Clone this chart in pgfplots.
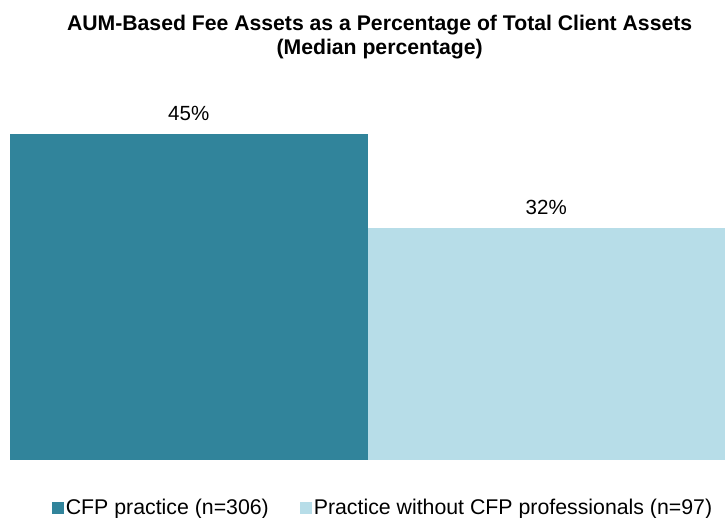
\documentclass[border=0pt]{standalone}
\usepackage{pgfplots}
\pgfplotsset{compat=1.18}
\usepackage{fontspec}
\setmainfont{Liberation Sans}
\usetikzlibrary{calc}
\definecolor{cfpdark}{HTML}{31849B}
\definecolor{cfplight}{HTML}{B7DDE8}
\begin{document}
\begin{tikzpicture}
\begin{axis}[
  scale only axis, clip=false,
  width=715bp, height=362.2bp,
  xmin=-0.5, xmax=1.5, ymin=0, ymax=50,
  axis lines=none, xtick=\empty, ytick=\empty,
  ybar, bar width=357.5bp, bar shift=0pt,
  /pgf/number format/assume math mode=true,
  nodes near coords={\pgfmathprintnumber{\pgfplotspointmeta}\%},
  every node near coord/.append style={font=\fontsize{20.5bp}{24bp}\selectfont, anchor=base, yshift=14bp, black},
  legend style={at={(axis description cs:0.5217,-0.1325)}, anchor=center, draw=none, legend columns=2,
    font=\fontsize{21.3bp}{24bp}\selectfont,
    /tikz/every even column/.append style={column sep=29bp}},
  legend image code/.code={\fill[#1] (0bp,-6bp) rectangle (12bp,6bp);},
]
\addplot[fill=cfpdark, draw=none] coordinates {(0,45)};
\addlegendentry{CFP practice (n=306)}
\addplot[fill=cfplight, draw=none] coordinates {(1,32)};
\addlegendentry{Practice without CFP professionals (n=97)}
\coordinate (ll) at (axis cs:-0.5,0);
\node[font=\bfseries\fontsize{21.2bp}{24bp}\selectfont, align=center] at (axis description cs:0.517,1.168)
  {AUM-Based Fee Assets as a Percentage of Total Client Assets\\(Median percentage)};
\end{axis}
\pgfresetboundingbox
\path[use as bounding box] ($(ll)+(-10bp,-58bp)$) rectangle ++(725bp,518bp);
\end{tikzpicture}
\end{document}
